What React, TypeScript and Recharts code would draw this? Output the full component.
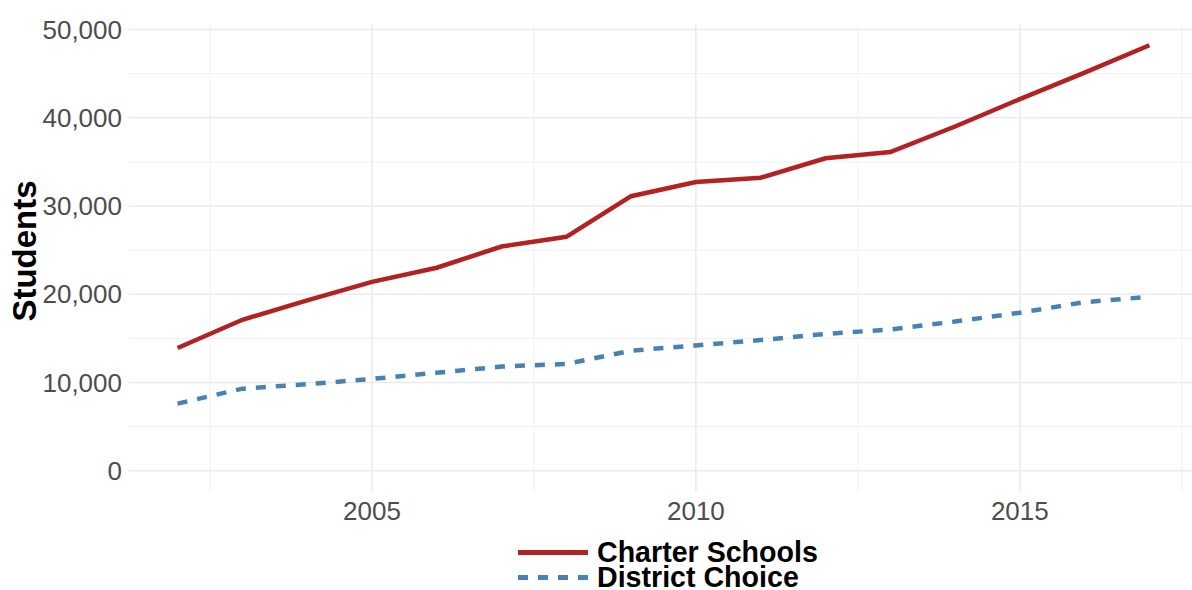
import * as React from 'react';
import { LineChart, Line, XAxis, YAxis, CartesianGrid, Legend } from 'recharts';

// enrollment by year
const years = [2002, 2003, 2004, 2005, 2006, 2007, 2008, 2009, 2010, 2011, 2012, 2013, 2014, 2015, 2016, 2017];
const charterSchools = [13900, 17100, 19300, 21400, 23000, 25400, 26500, 31100, 32700, 33200, 35400, 36100, 39000, 42100, 45100, 48200];
const districtChoice = [7600, 9300, 9800, 10400, 11100, 11800, 12100, 13600, 14200, 14800, 15500, 16000, 16900, 17900, 19100, 19700];

const yTicks = [0, 10000, 20000, 30000, 40000, 50000];
const yMinor = [5000, 15000, 25000, 35000, 45000];
const xTicks = [2005, 2010, 2015];
const xMinor = [2002.5, 2007.5, 2012.5, 2017.5];

const series = [
  { key: 'charter', label: 'Charter Schools', color: '#B22222', dash: undefined as string | undefined },
  { key: 'district', label: 'District Choice', color: '#4682B4', dash: '10 10' },
];

const data = years.map((year, i) => ({
  year,
  charter: charterSchools[i],
  district: districtChoice[i],
}));

const FONT = '"Liberation Sans", Arial, sans-serif';

function LegendBox({ payload }: any) {
  return (
    <div style={{ fontFamily: FONT, fontWeight: 'bold', fontSize: 28.6, color: '#000', paddingTop: 8, overflow: 'visible' }}>
      {(payload || []).map((entry: any) => {
        const s = series.find((x) => x.key === entry.dataKey) || series[0];
        return (
          <div key={s.key} style={{ display: 'flex', alignItems: 'center', height: 25, lineHeight: '25px', overflow: 'visible', whiteSpace: 'nowrap' }}>
            <svg width={79} height={25} style={{ flexShrink: 0 }}>
              <line x1={0} x2={70} y1={12.5} y2={12.5} stroke={s.color} strokeWidth={5} strokeDasharray={s.dash} />
            </svg>
            <span>{s.label}</span>
          </div>
        );
      })}
    </div>
  );
}

export default function App() {
  return (
    <div style={{ position: 'absolute', top: 0, left: 0, width: 1192, height: 590, overflow: 'hidden', background: '#fff' }}>
      <LineChart width={1200} height={590} data={data} margin={{ top: 24, right: 2, left: 0, bottom: 0 }}>
        <CartesianGrid horizontalValues={yMinor} verticalValues={xMinor} stroke="#F0F0F0" strokeWidth={1} />
        <CartesianGrid horizontalValues={yTicks} verticalValues={xTicks} stroke="#EBEBEB" strokeWidth={1.5} />
        <XAxis
          dataKey="year"
          type="number"
          domain={[2001.25, 2017.75]}
          ticks={xTicks}
          allowDataOverflow
          axisLine={false}
          tickLine={false}
          tickMargin={4}
          height={40}
          tick={{ fontSize: 26, fill: '#4D4D4D', fontFamily: FONT }}
        />
        <YAxis
          type="number"
          domain={[-2410, 50610]}
          ticks={yTicks}
          allowDataOverflow
          axisLine={false}
          tickLine={false}
          tickMargin={1}
          width={129}
          tickFormatter={(v: number) => v.toLocaleString('en-US')}
          tick={{ fontSize: 26, fill: '#4D4D4D', fontFamily: FONT }}
          label={({ viewBox }: any) => {
            const cy = viewBox.y + viewBox.height / 2 - 7;
            return (
              <text
                x={24}
                y={cy}
                transform={`rotate(-90, 24, ${cy})`}
                textAnchor="middle"
                dominantBaseline="central"
                style={{ fontFamily: FONT, fontWeight: 'bold', fontSize: 33, fill: '#000' }}
              >
                Students
              </text>
            );
          }}
        />
        <Legend
          verticalAlign="bottom"
          content={<LegendBox />}
          wrapperStyle={{ left: 518, width: 400, height: 58, overflow: 'visible' }}
        />
        {series.map((s) => (
          <Line
            key={s.key}
            dataKey={s.key}
            name={s.label}
            type="linear"
            stroke={s.color}
            strokeWidth={4.5}
            strokeDasharray={s.dash}
            dot={false}
            activeDot={false}
            isAnimationActive={false}
          />
        ))}
      </LineChart>
    </div>
  );
}
